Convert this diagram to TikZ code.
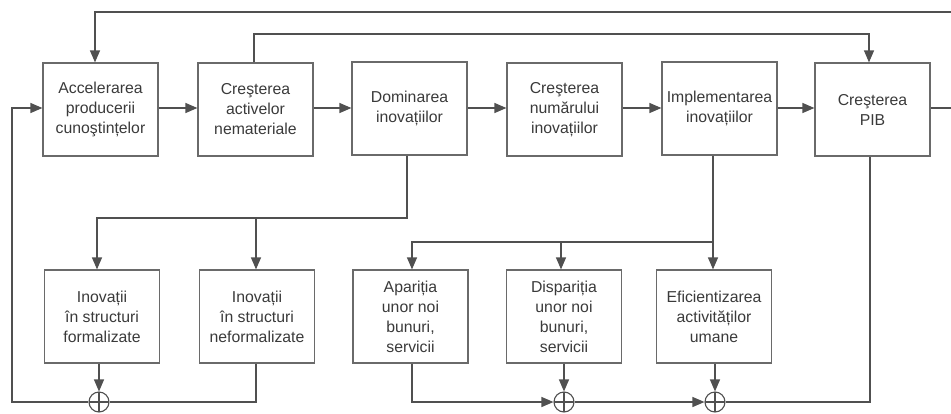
\documentclass[tikz,border=0pt]{standalone}
\usepackage{fontspec}
\setmainfont{Liberation Sans}
\usetikzlibrary{arrows.meta}
\definecolor{linec}{HTML}{505050}
\definecolor{boxc}{HTML}{6A6A6A}
\definecolor{textc}{HTML}{3A3A3A}
\begin{document}
\begin{tikzpicture}[x=1pt,y=-1pt,
  box/.style={draw=boxc, line width=1.2pt, minimum width=115pt, minimum height=93pt,
    inner sep=0pt, align=center, text=textc, font=\fontsize{15.8}{20}\selectfont},
  conn/.style={draw=linec, line width=1.2pt},
  arr/.style={conn, -{Triangle[length=12pt,width=10pt]}},
  sumj/.style={circle, draw=linec, line width=1.1pt, minimum size=20pt, inner sep=0pt,
    path picture={\draw[linec, line width=1.1pt]
      (path picture bounding box.north) -- (path picture bounding box.south)
      (path picture bounding box.west) -- (path picture bounding box.east);}}]
\useasboundingbox (0,0) rectangle (951,413);
% top row
\node[box] (b1) at (100.5,109.5) {Accelerarea\\producerii\\cunoştințelor};
\node[box] (b2) at (255.5,109.5) {Creşterea\\activelor\\nemateriale};
\node[box] (b3) at (409.5,108.5) {Dominarea\\inovațiilor};
\node[box] (b4) at (564.5,109.5) {Creşterea\\numărului\\inovațiilor};
\node[box] (b5) at (719.5,108.5) {Implementarea\\inovațiilor};
\node[box] (b6) at (872.5,109.5) {Creşterea\\PIB};
% bottom row
\node[box] (b7) at (102,316.5) {Inovații\\în structuri\\formalizate};
\node[box] (b8) at (257,316.5) {Inovații\\în structuri\\neformalizate};
\node[box] (b9) at (410.5,316.5) {Apariția\\unor noi\\bunuri,\\servicii};
\node[box] (b10) at (564,316.5) {Dispariția\\unor noi\\bunuri,\\servicii};
\node[box] (b11) at (714,316.5) {Eficientizarea\\activităților\\umane};
% summing junctions
\node[sumj] (s1) at (99,402) {};
\node[sumj] (s2) at (564,402) {};
\node[sumj] (s3) at (715,402) {};
% free ends
\coordinate (eTop) at (951,12);
\coordinate (eRight) at (951,108);
\coordinate (lft) at (12,402);
% main chain
\draw[arr] (b1.east |- 0,108) -- (b2.west |- 0,108);
\draw[arr] (b2.east |- 0,108) -- (b3.west |- 0,108);
\draw[arr] (b3.east |- 0,108) -- (b4.west |- 0,108);
\draw[arr] (b4.east |- 0,108) -- (b5.west |- 0,108);
\draw[arr] (b5.east |- 0,108) -- (b6.west |- 0,108);
\draw[conn] (b6.east |- 0,108) -- (eRight);
% top feedback lines
\draw[arr] (eTop) -| (b1.north -| 95,0);
\draw[arr] (b2.north -| 254,0) |- (869,34) -- (b6.north -| 869,0);
% Dominarea branches
\draw[arr] (b3.south -| 407,0) |- (97,218) -- (b7.north -| 97,0);
\draw[arr] (256,218) -- (b8.north -| 256,0);
% Implementarea branches
\draw[arr] (b5.south -| 713,0) -- (b11.north -| 713,0);
\draw[arr] (713,242) -| (b9.north -| 412,0);
\draw[arr] (561,242) -- (b10.north -| 561,0);
% bottom left loop
\draw[arr] (b7.south -| s1) -- (s1.north);
\draw[conn] (b8.south -| 256,0) |- (s1.east);
\draw[arr] (s1.west) -- (lft) |- (b1.west |- 0,108);
% bottom right
\draw[arr] (b9.south -| 412,0) |- (s2.west);
\draw[arr] (b10.south -| s2) -- (s2.north);
\draw[arr] (s2.east) -- (s3.west);
\draw[arr] (b11.south -| s3) -- (s3.north);
\draw[conn] (s3.east) -| (b6.south -| 870,0);
\end{tikzpicture}
\end{document}
